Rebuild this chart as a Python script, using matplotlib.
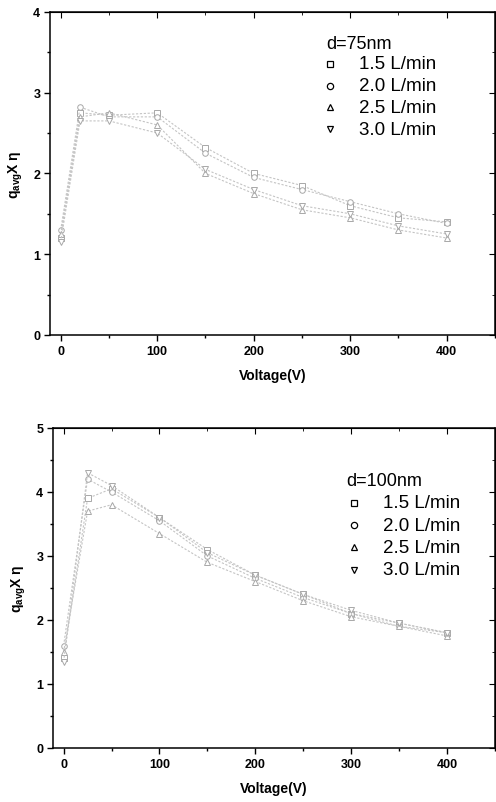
import matplotlib.pyplot as plt
from matplotlib.ticker import MultipleLocator

plt.rcParams['font.family'] = ['Liberation Sans', 'DejaVu Sans']
plt.rcParams['mathtext.default'] = 'regular'

# flow rates shown in both legends
flow_labels = ['1.5 L/min', '2.0 L/min', '2.5 L/min', '3.0 L/min']
markers = ['s', 'o', '^', 'v']

# d = 75 nm
volt_75 = [0, 20, 50, 100, 150, 200, 250, 300, 350, 400]
q_75_15 = [1.20, 2.75, 2.72, 2.75, 2.32, 2.00, 1.85, 1.60, 1.45, 1.40]
q_75_20 = [1.30, 2.82, 2.70, 2.70, 2.25, 1.95, 1.80, 1.65, 1.50, 1.38]
q_75_25 = [1.25, 2.70, 2.75, 2.60, 2.00, 1.75, 1.55, 1.45, 1.30, 1.20]
q_75_30 = [1.15, 2.65, 2.65, 2.50, 2.05, 1.80, 1.60, 1.50, 1.35, 1.25]

# d = 100 nm
volt_100 = [0, 25, 50, 100, 150, 200, 250, 300, 350, 400]
q_100_15 = [1.40, 3.90, 4.05, 3.60, 3.10, 2.70, 2.40, 2.10, 1.95, 1.80]
q_100_20 = [1.60, 4.20, 4.00, 3.55, 3.00, 2.65, 2.35, 2.10, 1.90, 1.80]
q_100_25 = [1.50, 3.70, 3.80, 3.35, 2.90, 2.60, 2.30, 2.05, 1.90, 1.75]
q_100_30 = [1.35, 4.30, 4.10, 3.60, 3.05, 2.70, 2.40, 2.15, 1.95, 1.80]

panels = [
    dict(rect=[0.101, 0.5816, 0.897, 0.4024], volt=volt_75,
         series=[q_75_15, q_75_20, q_75_25, q_75_30], ymax=4,
         title='d=75nm', leg_x=0.620, title_px=45, first_px=65, row_px=21.7,
         mk_dx=0.010, tx_dx=0.074),
    dict(rect=[0.107, 0.0673, 0.891, 0.3985], volt=volt_100,
         series=[q_100_15, q_100_20, q_100_25, q_100_30], ymax=5,
         title='d=100nm', leg_x=0.663, title_px=482, first_px=504, row_px=22.2,
         mk_dx=0.018, tx_dx=0.084),
]

fig = plt.figure(figsize=(4.96, 8.03), dpi=100)

for p in panels:
    ax = fig.add_axes(p['rect'])
    for q, m in zip(p['series'], markers):
        ax.plot(p['volt'], q, color='#c4c4c4', lw=0.8, ls=(0, (2, 1.5)),
                marker=m, ms=4, mfc='white', mec='#a8a8a8', mew=0.7)

    ax.set_xlim(-11, 450)
    ax.set_ylim(0, p['ymax'])
    ax.xaxis.set_major_locator(MultipleLocator(100))
    ax.xaxis.set_minor_locator(MultipleLocator(50))
    ax.yaxis.set_major_locator(MultipleLocator(1))
    ax.yaxis.set_minor_locator(MultipleLocator(0.5))
    ax.tick_params(which='major', direction='out', length=4, width=1,
                   labelsize=9, pad=3)
    ax.tick_params(which='minor', direction='out', length=2, width=1)
    for lab in ax.get_xticklabels() + ax.get_yticklabels():
        lab.set_fontweight('bold')
    for s in ax.spines.values():
        s.set_linewidth(1.1)

    # top and right ticks point inward
    top = ax.secondary_xaxis('top')
    top.xaxis.set_major_locator(MultipleLocator(100))
    top.xaxis.set_minor_locator(MultipleLocator(50))
    top.tick_params(which='both', direction='in', labeltop=False)
    top.tick_params(which='major', length=4)
    top.tick_params(which='minor', length=2)
    right = ax.secondary_yaxis('right')
    right.yaxis.set_major_locator(MultipleLocator(1))
    right.yaxis.set_minor_locator(MultipleLocator(0.5))
    right.tick_params(which='both', direction='in', labelright=False)
    right.tick_params(which='major', length=4)
    right.tick_params(which='minor', length=2)

    ax.set_xlabel('Voltage(V)', fontsize=10, fontweight='bold', labelpad=8)
    ax.set_ylabel('q$_{avg}$X \u03b7', fontsize=10, fontweight='bold', labelpad=6)

    # legend block drawn as text plus marker rows
    lx = p['leg_x']
    ax_top_px = (1 - p['rect'][1] - p['rect'][3]) * 803
    ax_h_px = p['rect'][3] * 803

    def frac(px):
        return 1 - (px - ax_top_px) / ax_h_px

    ax.text(lx, frac(p['title_px']), p['title'], transform=ax.transAxes,
            fontsize=13, va='center', ha='left')
    for i, (lab, m) in enumerate(zip(flow_labels, markers)):
        yy = frac(p['first_px'] + p['row_px'] * i)
        ax.plot([lx + p['mk_dx']], [yy], transform=ax.transAxes, marker=m,
                ms=4.5, mfc='white', mec='black', mew=0.9, ls='none',
                clip_on=False)
        ax.text(lx + p['tx_dx'], yy, lab, transform=ax.transAxes,
                fontsize=13.5, va='center', ha='left')

fig.savefig('out.png', dpi=100)
